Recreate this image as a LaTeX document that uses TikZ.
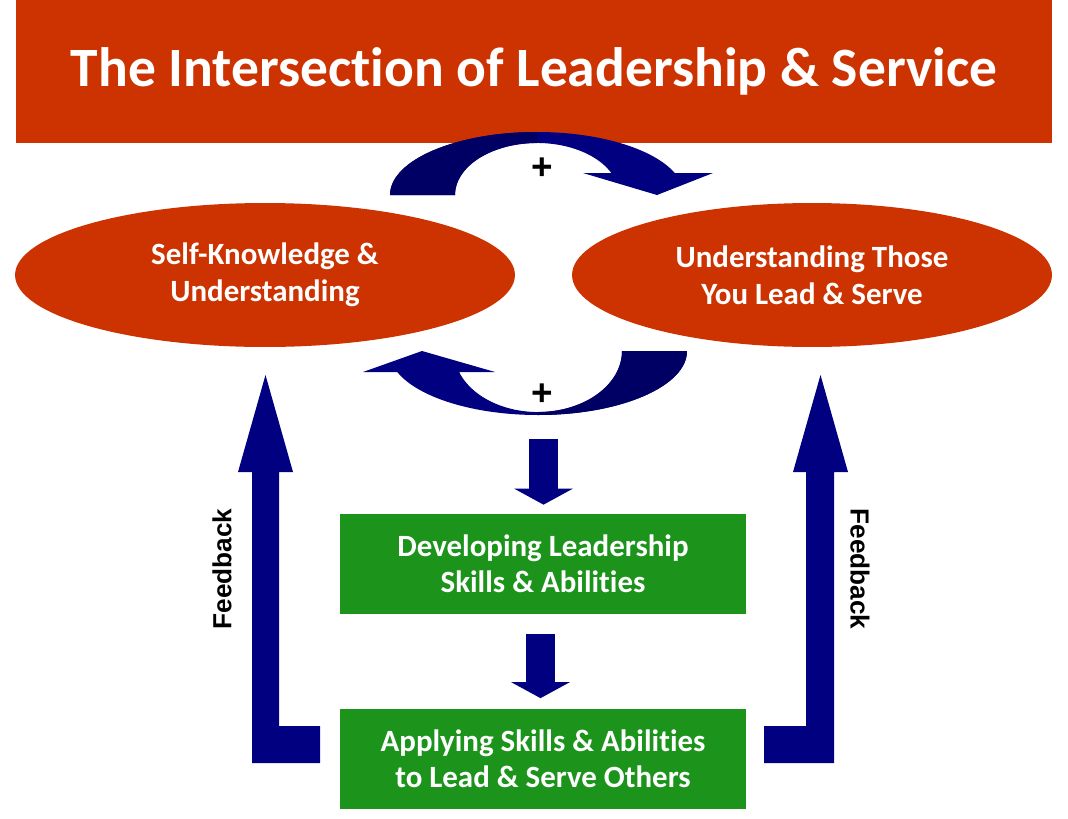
\documentclass[tikz,border=0pt]{standalone}
\usepackage{fontspec}
\setmainfont{Carlito}[Ligatures=NoCommon]
\newfontfamily\arialfont{Liberation Sans}
\usetikzlibrary{arrows.meta,calc,shapes.geometric}
\definecolor{titlered}{RGB}{204,51,0}
\definecolor{boxgreen}{RGB}{28,148,28}
\definecolor{arrownavy}{RGB}{0,0,128}
\definecolor{arrowdark}{RGB}{0,0,100}

\begin{document}
\begin{tikzpicture}[x=0.02cm, y=-0.02cm,
    oval/.style={ellipse, fill=titlered, text=white, align=center, inner sep=0pt,
        minimum height=2.88cm, font=\fontsize{17.6}{21}\selectfont\bfseries},
    greenbox/.style={rectangle, fill=boxgreen, text=white, align=center, inner sep=0pt,
        minimum width=8.12cm, minimum height=2cm, font=\fontsize{17.6}{20.5}\selectfont\bfseries},
    downarrow/.style={arrownavy, line width=0.58cm, -{Triangle[width=1.16cm,length=0.32cm]}},
    sidelabel/.style={font=\arialfont\fontsize{14.9}{17}\selectfont\bfseries},
    pluslabel/.style={font=\arialfont\fontsize{21}{21}\selectfont\bfseries, inner sep=0pt}]
    \useasboundingbox (0,0) rectangle (1068,818);
    % title bar
    \node[fill=titlered, text=white, inner sep=0pt, minimum width=20.72cm, minimum height=2.86cm,
        font=\fontsize{31.6}{36}\selectfont\bfseries] (title) at (534,71.5)
        {The Intersection of Leadership \& Service};
    % the two ovals
    \node[oval, minimum width=10cm] (self) at (265,275) {Self-Knowledge \&\\Understanding};
    \node[oval, minimum width=9.6cm] (others) at (812,275) {Understanding Those\\You Lead \& Serve};
    % the two boxes
    \node[greenbox] (develop) at (543,564) {Developing Leadership\\Skills \& Abilities};
    \node[greenbox] (apply) at (543,758.5) {Applying Skills \& Abilities\\to Lead \& Serve Others};

    % curved arrow on top
    \fill[arrownavy] (455,195) -- (390,195) arc[start angle=180, end angle=339.6, x radius=147, y radius=63]
        -- (713,173) -- (657,195) -- (583,173) -- (611.3,173)
        arc[start angle=335, end angle=180, x radius=82, y radius=52] -- cycle;
    \fill[arrowdark] (455,195) -- (390,195) arc[start angle=180, end angle=270, x radius=147, y radius=63]
        -- (537,143) arc[start angle=270, end angle=180, x radius=82, y radius=52] -- cycle;
    % curved arrow below
    \fill[arrownavy] (622,351) -- (687,351) arc[start angle=0, end angle=160.8, x radius=149, y radius=64]
        -- (363,372) -- (422,351) -- (495,372) -- (459.1,372)
        arc[start angle=159.9, end angle=0, x radius=84, y radius=61] -- cycle;
    \fill[arrowdark] (622,351) -- (687,351) arc[start angle=0, end angle=90, x radius=149, y radius=64]
        -- (538,412) arc[start angle=90, end angle=0, x radius=84, y radius=61] -- cycle;
    \node[pluslabel] (plustop) at (542,169) {+};
    \node[pluslabel] (plusbot) at (542,395) {+};

    % down arrows
    \draw[downarrow] ($(develop.north)+(0.5,-75)$) -- ($(develop.north)+(0.5,-9)$);
    \draw[downarrow] ($(develop.south)+(-2.5,20)$) -- ($(apply.north)+(-2.5,-10)$);

    % feedback arrows
    \fill[arrownavy] (320,726) -- (279,726) -- (279,472) -- (293,472) -- (265.5,375)
        -- (238,472) -- (252,472) -- (252,763) -- (320,763) -- cycle;
    \fill[arrownavy] (764,726) -- (806,726) -- (806,472) -- (793,472) -- (820.5,375)
        -- (848,472) -- (834,472) -- (834,763) -- (764,763) -- cycle;
    \node[sidelabel, rotate=90] (fbleft) at (222,569) {Feedback};
    \node[sidelabel, rotate=-90] (fbright) at (860,569) {Feedback};
\end{tikzpicture}
\end{document}
